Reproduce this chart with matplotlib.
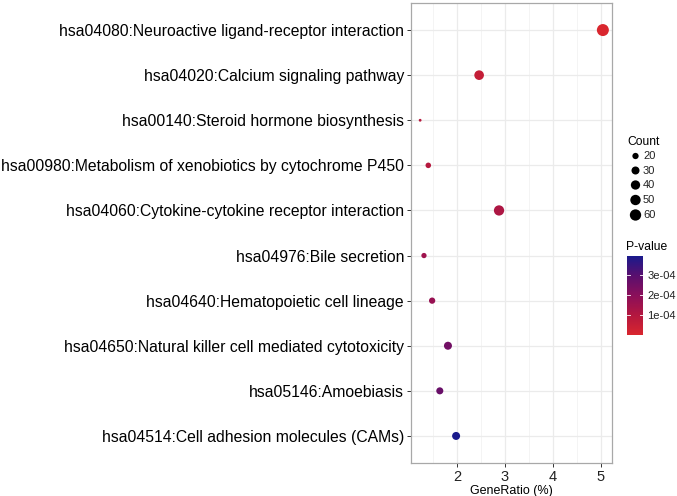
import numpy as np
import matplotlib
matplotlib.use("Agg")
import matplotlib.pyplot as plt
from matplotlib.colors import LinearSegmentedColormap, Normalize
from matplotlib.colorbar import ColorbarBase

plt.rcParams['font.family'] = ['Liberation Sans', 'DejaVu Sans']

terms = [
    "hsa04080:Neuroactive ligand-receptor interaction",
    "hsa04020:Calcium signaling pathway",
    "hsa00140:Steroid hormone biosynthesis",
    "hsa00980:Metabolism of xenobiotics by cytochrome P450",
    "hsa04060:Cytokine-cytokine receptor interaction",
    "hsa04976:Bile secretion",
    "hsa04640:Hematopoietic cell lineage",
    "hsa04650:Natural killer cell mediated cytotoxicity",
    "hsa05146:Amoebiasis",
    "hsa04514:Cell adhesion molecules (CAMs)",
]
gene_ratio = [5.04, 2.46, 1.23, 1.40, 2.875, 1.31, 1.48, 1.81, 1.64, 1.98]
counts = [68, 43, 12, 17, 49, 16, 20, 30, 24, 30]
pvalues = [1e-8, 0.55e-4, 0.9e-4, 0.95e-4, 1.15e-4, 1.5e-4, 1.7e-4, 2.5e-4, 2.7e-4, 3.98e-4]
count_breaks = [20, 30, 40, 50, 60]
p_breaks = [1e-4, 2e-4, 3e-4]
p_labels = ["1e-04", "2e-04", "3e-04"]

W, H, DPI = 677, 496, 100
fig = plt.figure(figsize=(W / DPI, H / DPI), dpi=DPI)

cmap = LinearSegmentedColormap.from_list(
    "pv", ["#d9262e", "#b3173f", "#8b0f5a", "#5a0f6e", "#1a1a8c"])
pmin, pmax = 0.0, max(pvalues)
norm = Normalize(vmin=pmin, vmax=pmax)

cmin, cmax = min(counts), max(counts)


def size_of(c):
    c = np.asarray(c, dtype=float)
    d_px = 2.8 + 9.2 * np.sqrt((c - cmin) / (cmax - cmin))
    return (d_px * 72.0 / DPI) ** 2


def fx(px):
    return px / W


def fy(py):
    return 1 - py / H


ax = fig.add_axes([fx(411), fy(463), fx(612) - fx(411), fy(3) - fy(463)])
n = len(terms)
ypos = np.arange(n)[::-1]
ax.scatter(gene_ratio, ypos, s=size_of(counts), c=pvalues, cmap=cmap, norm=norm,
           linewidths=0, zorder=3)

xr = max(gene_ratio) - min(gene_ratio)
ax.set_xlim(min(gene_ratio) - 0.05 * xr, max(gene_ratio) + 0.05 * xr)
ax.set_ylim(-0.6, n - 0.4)
ax.set_yticks(ypos)
ax.set_yticklabels(terms, fontsize=11.3, color="black")
ax.set_xticks([2, 3, 4, 5])
ax.set_xticklabels(["2", "3", "4", "5"], fontsize=10.5, color="#222222")
ax.set_xticks([1.5, 2.5, 3.5, 4.5], minor=True)
ax.tick_params(axis="both", which="major", length=3, width=0.7, color="#333333", pad=2)
ax.tick_params(axis="x", which="minor", length=0)
ax.grid(True, which="major", color="#ebebeb", lw=0.9, zorder=0)
ax.grid(True, which="minor", axis="x", color="#f2f2f2", lw=0.6, zorder=0)
ax.set_axisbelow(True)
for sp in ax.spines.values():
    sp.set_color("#a8a8a8")
    sp.set_linewidth(0.9)
ax.set_xlabel("GeneRatio (%)", fontsize=9, labelpad=1)

# Count legend
fig.text(fx(627), fy(142), "Count", fontsize=8.7, va="center", ha="left")
lax = fig.add_axes([fx(620), fy(225), fx(57), fy(0) - fy(78)])
lax.set_xlim(0, 57)
lax.set_ylim(225, 147)
ly = [156, 170.5, 185, 200, 215]
lax.scatter([15.5] * len(count_breaks), ly, s=size_of(count_breaks), c="black", linewidths=0)
for yy, cb in zip(ly, count_breaks):
    lax.text(23, yy, str(cb), fontsize=8, va="center", ha="left", color="#222222")
lax.axis("off")

# P-value colorbar
fig.text(fx(626), fy(247), "P-value", fontsize=8.7, va="center", ha="left")
cax = fig.add_axes([fx(627), fy(335), fx(16), fy(256) - fy(335)])
cb = ColorbarBase(cax, cmap=cmap, norm=norm, orientation="vertical")
cb.outline.set_visible(False)
cb.set_ticks(p_breaks)
cb.set_ticklabels(p_labels)
cax.tick_params(length=0, labelsize=8, pad=3, colors="#222222")
for t in p_breaks:
    cax.plot([0, 0.2], [t, t], color="white", lw=0.6, transform=cax.get_yaxis_transform())
    cax.plot([0.8, 1.0], [t, t], color="white", lw=0.6, transform=cax.get_yaxis_transform())

fig.savefig("out.png", dpi=DPI)
